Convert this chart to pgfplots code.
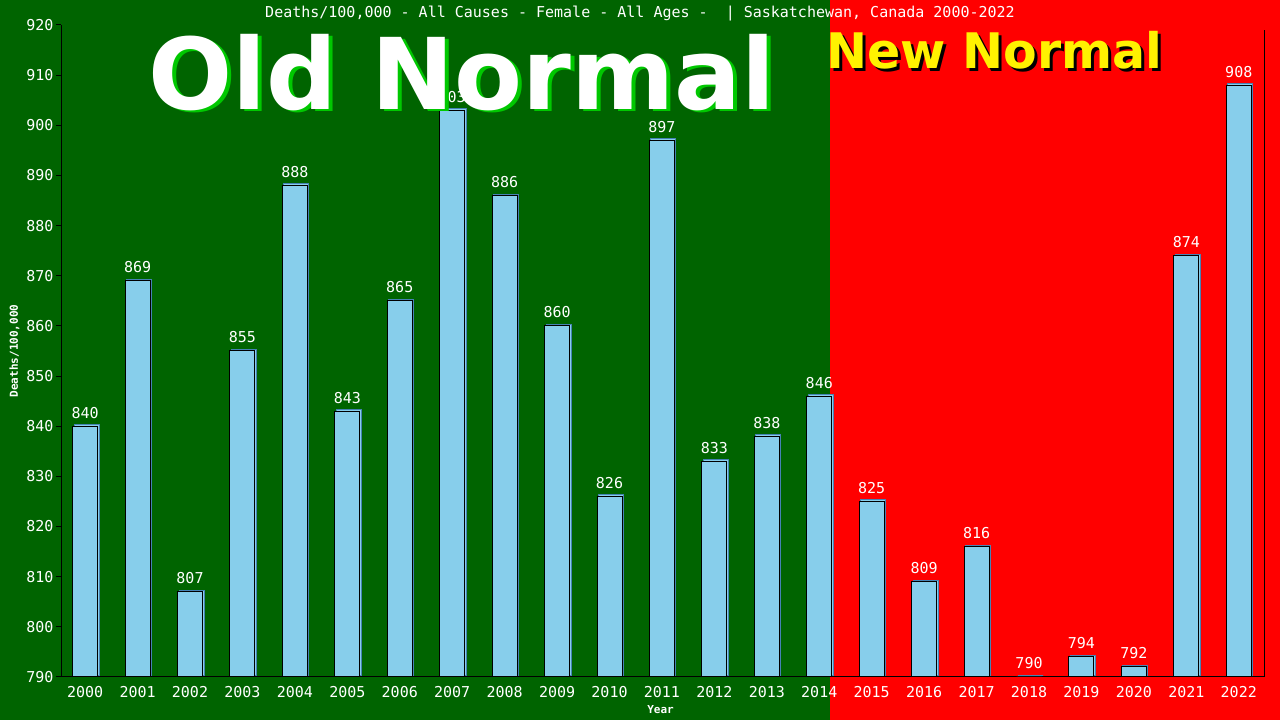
\documentclass[border=0pt]{standalone}
\usepackage{fontspec}
\usepackage{pgfplots}
\pgfplotsset{compat=1.18}
\setmainfont{DejaVu Sans Mono}
\newfontfamily\bigfont{DejaVu Sans}
\definecolor{bggreen}{RGB}{0,100,0}
\definecolor{bgred}{RGB}{255,0,0}
\definecolor{barblue}{RGB}{135,206,235}
\definecolor{barshadow}{RGB}{70,130,180}
\definecolor{oldshadow}{RGB}{0,200,0}
\begin{document}
\begin{tikzpicture}[x=1pt,y=1pt]
\useasboundingbox (0,0) rectangle (1280,720);
% background halves: old normal / new normal
\fill[bggreen] (0,0) rectangle (830,720);
\fill[bgred] (830,0) rectangle (1280,720);
\begin{axis}[
  at={(61pt,43pt)}, anchor=south west,
  scale only axis, width=1204pt, height=652pt,
  xmin=-0.46, xmax=22.5, ymin=790, ymax=920,
  axis x line*=bottom, axis y line*=left,
  axis line style={black, line width=1pt},
  ytick={790,800,...,920},
  xtick={0,...,22},
  xticklabels={2000,2001,2002,2003,2004,2005,2006,2007,2008,2009,2010,2011,2012,2013,2014,2015,2016,2017,2018,2019,2020,2021,2022},
  x tick style={draw=none},
  y tick style={black, line width=1pt},
  tick align=outside, major tick length=5pt,
  tick label style={white, font=\fontsize{15}{15}\selectfont},
  /pgf/number format/assume math mode=true,
  /pgf/number format/1000 sep={},
  xticklabel style={yshift=-1pt},
  yticklabel style={xshift=1pt},
  xlabel={Year}, ylabel={Deaths/100,000},
  label style={white, font=\fontsize{11}{11}\selectfont\bfseries},
  xlabel style={at={(rel axis cs:0.498,0)}, anchor=north, yshift=-25pt},
  ylabel style={at={(rel axis cs:0,0.5)}, anchor=south, xshift=0pt},
  every axis y label/.append style={at={(ticklabel cs:0.5)}},
  ybar, bar width=25pt,
]
\addplot[draw=barshadow, fill=barblue, line width=1pt, bar shift=0pt,
  transform canvas={xshift=1.5pt,yshift=1.5pt}] coordinates {
(0,840) (1,869) (2,807) (3,855) (4,888) (5,843) (6,865) (7,903) (8,886) (9,860) (10,826) (11,897)
(12,833) (13,838) (14,846) (15,825) (16,809) (17,816) (18,790) (19,794) (20,792) (21,874) (22,908)};
\addplot[draw=black, fill=barblue, line width=1pt, bar shift=0pt,
  nodes near coords,
  every node near coord/.append style={white, anchor=base, yshift=8pt, inner sep=0pt,
    font=\fontsize{15}{15}\selectfont, /pgf/number format/assume math mode=true}] coordinates {
(0,840) (1,869) (2,807) (3,855) (4,888) (5,843) (6,865) (7,903) (8,886) (9,860) (10,826) (11,897)
(12,833) (13,838) (14,846) (15,825) (16,809) (17,816) (18,790) (19,794) (20,792) (21,874) (22,908)};
\draw[black, line width=1pt] (rel axis cs:1,0) -- (rel axis cs:1,0.993);
\end{axis}
% title
\node[white, font=\fontsize{15}{15}\selectfont, inner sep=0pt] at (640,706)
  {Deaths/100,000 - All Causes - Female - All Ages -~~| Saskatchewan, Canada 2000-2022};
% Old Normal / New Normal
\node[oldshadow, anchor=base west, inner sep=0pt, font=\fontsize{99}{99}\selectfont\bigfont\bfseries] at (152,608) {Old Normal};
\node[white, anchor=base west, inner sep=0pt, font=\fontsize{99}{99}\selectfont\bigfont\bfseries] at (148,610) {Old Normal};
\node[black, anchor=base west, inner sep=0pt, font=\fontsize{49}{49}\selectfont\bigfont\bfseries] at (829,648) {New Normal};
\node[yellow, anchor=base west, inner sep=0pt, font=\fontsize{49}{49}\selectfont\bigfont\bfseries] at (826,651) {New Normal};
\end{tikzpicture}
\end{document}
